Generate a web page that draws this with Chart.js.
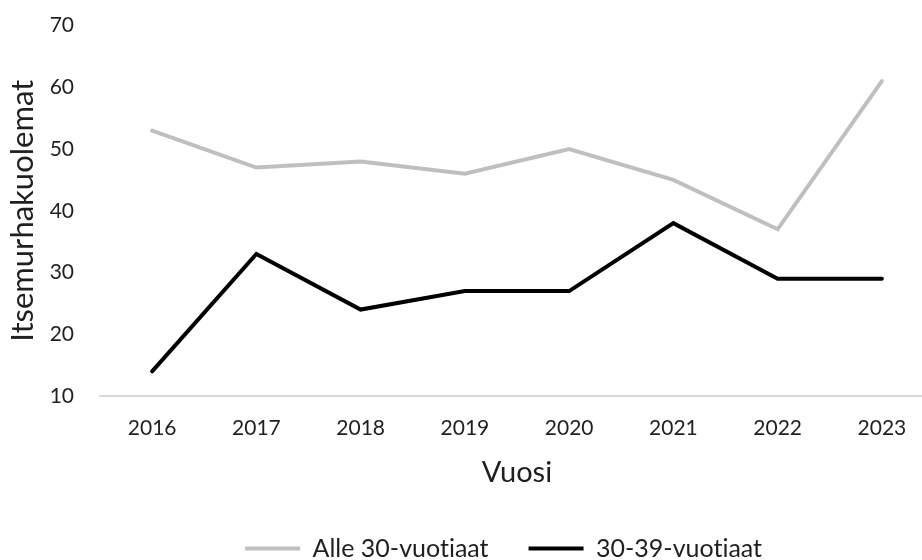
<!DOCTYPE html>
<html lang="fi">
<head>
    <meta charset="UTF-8">
    <title>Itsemurhakuolemat</title>
    <script src="https://cdn.jsdelivr.net/npm/chart.js"></script>
    <style>
        html, body {
            margin: 0;
            padding: 0;
            background: #fff;
            overflow: hidden;
        }
        #wrap {
            width: 922px;
            height: 560px;
            overflow: hidden;
        }
        #chart {
            display: block;
            margin-top: -13px;
        }
    </style>
</head>
<body>
    <div id="wrap"><canvas id="chart" width="940" height="584"></canvas></div>
    <script>
        // vuodet ja sarjat
        var years = ['2016', '2017', '2018', '2019', '2020', '2021', '2022', '2023'];
        var under30 = [53, 47, 48, 46, 50, 45, 37, 61];
        var age30to39 = [14, 33, 24, 27, 27, 38, 29, 29];
        var seriesNames = ['Alle 30-vuotiaat', '30-39-vuotiaat'];
        var yTicks = [10, 70, 10]; // min, max, step

        var font = 'Lato, "Open Sans", sans-serif';
        var textColor = '#1f1f1f';

        // no "ti" ligatures, legend a bit right of centre like the original
        var tweaks = {
            id: 'tweaks',
            afterLayout: function(chart) {
                chart.legend.left += 35;
                chart.legend.right += 35;
            },
            beforeDraw: function(chart) {
                chart.ctx.textRendering = 'optimizeSpeed';
            }
        };

        var ctx = document.getElementById('chart').getContext('2d');
        var chart = new Chart(ctx, {
            type: 'line',
            data: {
                labels: years,
                datasets: [{
                    label: seriesNames[0],
                    data: under30,
                    borderColor: '#bfbfbf',
                    backgroundColor: '#bfbfbf',
                    borderWidth: 4,
                    pointRadius: 0,
                    tension: 0,
                    borderCapStyle: 'round'
                }, {
                    label: seriesNames[1],
                    data: age30to39,
                    borderColor: '#000000',
                    backgroundColor: '#000000',
                    borderWidth: 4,
                    pointRadius: 0,
                    tension: 0,
                    borderCapStyle: 'round'
                }]
            },
            plugins: [tweaks],
            options: {
                responsive: false,
                animation: false,
                layout: {
                    padding: { top: 0, right: 6, left: 4, bottom: 0 }
                },
                plugins: {
                    tooltip: { enabled: false },
                    legend: {
                        position: 'bottom',
                        labels: {
                            color: textColor,
                            font: { family: font, size: 25 },
                            boxWidth: 55,
                            boxHeight: 4,
                            padding: 40,
                            generateLabels: function(c) {
                                var items = Chart.defaults.plugins.legend.labels.generateLabels(c);
                                items.forEach(function(it) { it.lineWidth = 0; });
                                return items;
                            }
                        }
                    }
                },
                scales: {
                    x: {
                        offset: true,
                        grid: { display: false, drawTicks: false },
                        border: { display: true, color: '#d9d9d9', width: 2 },
                        ticks: {
                            color: textColor,
                            font: { family: font, size: 21 },
                            padding: 20
                        },
                        title: {
                            display: true,
                            text: 'Vuosi',
                            color: textColor,
                            font: { family: font, size: 29 },
                            padding: { top: 0, bottom: 6 }
                        },
                        afterFit: function(scale) { scale.height = 100; }
                    },
                    y: {
                        min: yTicks[0],
                        max: yTicks[1],
                        grid: { display: false, drawTicks: false },
                        border: { display: false },
                        ticks: {
                            stepSize: yTicks[2],
                            color: textColor,
                            font: { family: font, size: 21 },
                            padding: 26
                        },
                        title: {
                            display: true,
                            text: 'Itsemurhakuolemat',
                            color: textColor,
                            font: { family: font, size: 31 },
                            padding: { top: 0, bottom: 0 }
                        },
                        afterFit: function(scale) { scale.width = 96; }
                    }
                }
            }
        });
    </script>
</body>
</html>
